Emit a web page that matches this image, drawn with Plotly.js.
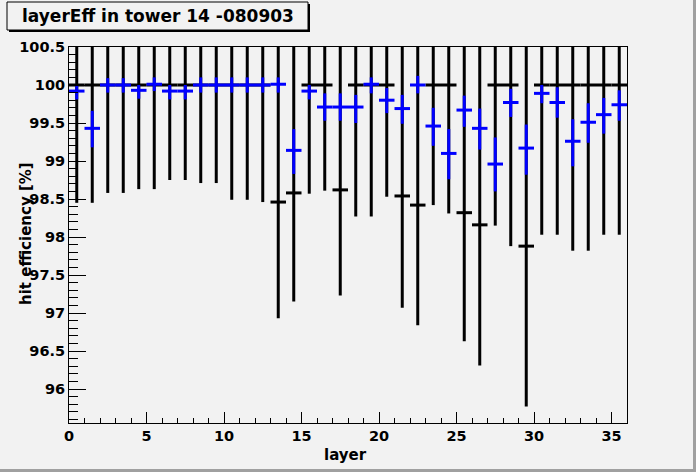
<!DOCTYPE html>
<html>
<head>
<meta charset="utf-8">
<script src="https://cdn.plot.ly/plotly-3.0.1.min.js"></script>
<style>
  body { margin: 0; background: #f2f2f2; }
  #chart { width: 696px; height: 472px; }
</style>
</head>
<body>
<div id="chart"></div>
<script>
// layer numbers (bin centres)
var layers = [];
for (var i = 0; i < 36; i++) layers.push(i + 0.5);

// black series: efficiency and lower edge of its error bar
var blackY = [100, 100, 100, 100, 100, 100, 100, 100, 100, 100, 100, 100, 100,
              98.46, 98.58, 100, 100, 98.62, 100, 100, 100, 98.54, 98.42, 100,
              100, 98.32, 98.16, 100, 100, 97.88, 100, 100, 100, 100, 100, 100];
var blackLow = [98.45, 98.45, 98.58, 98.58, 98.63, 98.63, 98.75, 98.75, 98.71, 98.71,
                98.49, 98.49, 98.46, 96.93, 97.15, 98.57, 98.61, 97.23, 98.27, 98.27,
                98.53, 97.07, 96.84, 98.42, 98.31, 96.63, 96.31, 98.15, 97.88, 95.77,
                98.03, 98.03, 97.82, 97.82, 98.03, 98.03];
var blackTop = 101; // upper edges all run off the top of the frame

// blue series: efficiency and its error bar edges
var blueY = [99.92, 99.43, 100.0, 100.0, 99.93, 100.01, 99.92, 99.92, 100.0, 100.0,
             100.0, 100.0, 100.0, 100.01, 99.14, 99.92, 99.71, 99.71, 99.71, 100.01,
             99.80, 99.69, 100.0, 99.46, 99.10, 99.67, 99.43, 98.96, 99.77, 99.17,
             99.89, 99.77, 99.26, 99.51, 99.61, 99.74];
var blueHigh = [100.0, 99.66, 100.09, 100.09, 100.0, 100.1, 100.0, 100.0, 100.1, 100.1,
                100.1, 100.1, 100.1, 100.1, 99.42, 100.0, 99.89, 99.89, 99.87, 100.1,
                99.96, 99.87, 100.12, 99.70, 99.42, 99.86, 99.69, 99.31, 99.95, 99.48,
                100.0, 99.97, 99.55, 99.76, 99.83, 99.93];
var blueLow = [99.81, 99.18, 99.90, 99.90, 99.82, 99.92, 99.81, 99.81, 99.90, 99.90,
               99.90, 99.90, 99.90, 99.90, 98.83, 99.81, 99.53, 99.53, 99.50, 99.89,
               99.63, 99.49, 99.89, 99.20, 98.76, 99.45, 99.15, 98.60, 99.58, 98.82,
               99.76, 99.57, 98.93, 99.24, 99.36, 99.53];

var titleText = "layerEff in tower 14 -080903";

function errUp(y, hi) { return y.map(function(v, k) { return (Array.isArray(hi) ? hi[k] : hi) - v; }); }
function errDown(y, lo) { return y.map(function(v, k) { return v - lo[k]; }); }
var halfBin = layers.map(function() { return 0.5; });

var black = {
    x: layers, y: blackY, type: "scatter", mode: "markers",
    marker: {size: 1, color: "rgba(0,0,0,0)"},
    error_y: {type: "data", symmetric: false, array: errUp(blackY, blackTop),
              arrayminus: errDown(blackY, blackLow), color: "black", thickness: 3, width: 0},
    error_x: {type: "data", array: halfBin, color: "black", thickness: 3, width: 0},
    hoverinfo: "skip"
};
var blue = {
    x: layers, y: blueY, type: "scatter", mode: "markers",
    marker: {size: 1, color: "rgba(0,0,255,0)"},
    error_y: {type: "data", symmetric: false, array: errUp(blueY, blueHigh),
              arrayminus: errDown(blueY, blueLow), color: "#0000ff", thickness: 3, width: 0},
    error_x: {type: "data", array: halfBin, color: "#0000ff", thickness: 3, width: 0},
    hoverinfo: "skip"
};

// pixel -> paper helpers for the title box and axis titles
var M = {l: 69, r: 69, t: 47, b: 49};
var W = 696, H = 472;
function px(x) { return (x - M.l) / (W - M.l - M.r); }
function py(y) { return (H - M.b - y) / (H - M.t - M.b); }

var fam = "DejaVu Sans, Verdana, sans-serif";
var tickF = {family: fam, size: 14.5, color: "black", weight: "bold"};
var axisF = {family: fam, size: 15, color: "black", weight: "bold"};

var layout = {
    width: W, height: H,
    margin: M,
    paper_bgcolor: "#f2f2f2", plot_bgcolor: "#f2f2f2",
    showlegend: false,
    xaxis: {
        range: [0, 36], tickvals: [0, 5, 10, 15, 20, 25, 30, 35],
        ticks: "inside", ticklen: 11, tickwidth: 1, tickcolor: "black",
        minor: {dtick: 1, ticks: "inside", ticklen: 5.5, tickcolor: "black"},
        showline: true, linecolor: "black", linewidth: 1, mirror: true,
        showgrid: false, zeroline: false,
        tickfont: tickF
    },
    yaxis: {
        range: [95.553, 100.5], dtick: 0.5,
        ticks: "inside", ticklen: 17, tickwidth: 1, tickcolor: "black",
        minor: {dtick: 0.1, ticks: "inside", ticklen: 8.5, tickcolor: "black"},
        showline: true, linecolor: "black", linewidth: 1, mirror: true,
        showgrid: false, zeroline: false,
        tickfont: tickF
    },
    shapes: [
        // title box shadow and box
        {type: "rect", xref: "paper", yref: "paper", layer: "above",
         x0: px(9), x1: px(310), y0: py(4), y1: py(32),
         fillcolor: "black", line: {width: 0}},
        {type: "rect", xref: "paper", yref: "paper", layer: "above",
         x0: px(7), x1: px(308), y0: py(2), y1: py(30),
         fillcolor: "#f2f2f2", line: {color: "black", width: 1}},
        // canvas bevel
        {type: "rect", xref: "paper", yref: "paper", layer: "above",
         x0: px(0), x1: px(696), y0: py(469), y1: py(472),
         fillcolor: "#a0a0a0", line: {width: 0}},
        {type: "rect", xref: "paper", yref: "paper", layer: "above",
         x0: px(693), x1: px(696), y0: py(0), y1: py(472),
         fillcolor: "#a0a0a0", line: {width: 0}}
    ],
    annotations: [
        {text: titleText, xref: "paper", yref: "paper", x: px(157.5), y: py(16),
         xanchor: "center", yanchor: "middle", showarrow: false,
         font: {family: fam, size: 17, color: "black", weight: "bold"}},
        {text: "layer", xref: "paper", yref: "paper", x: px(345), y: py(455),
         xanchor: "center", yanchor: "middle", showarrow: false, font: axisF},
        {text: "hit efficiency [%]", xref: "paper", yref: "paper", x: px(26), y: py(234),
         xanchor: "center", yanchor: "middle", textangle: -90, showarrow: false, font: axisF}
    ]
};

Plotly.newPlot("chart", [black, blue], layout, {staticPlot: true});
</script>
</body>
</html>
